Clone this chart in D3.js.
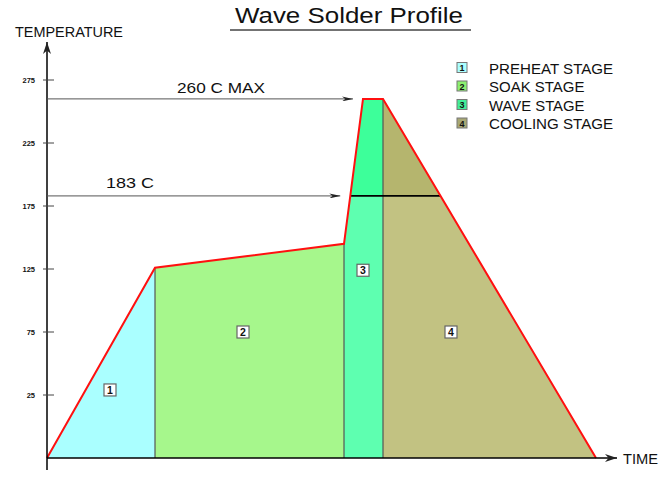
<!DOCTYPE html>
<html>
<head>
<meta charset="utf-8">
<script src="https://cdn.jsdelivr.net/npm/d3@7"></script>
<style>
  body { margin: 0; background: #fff; }
  svg text { font-family: "Liberation Sans", Arial, sans-serif; fill: #111; }
</style>
</head>
<body>
<div id="chart"></div>
<script>
// profile (time in arbitrary units, temperature in C)
const profileTime = [0, 108, 297, 316, 336, 549];
const profileTemp = [-25, 126, 145, 260, 260, -25];
const stageEnds = [0, 108, 297, 336, 549];
const stageNames = ['PREHEAT STAGE', 'SOAK STAGE', 'WAVE STAGE', 'COOLING STAGE'];
const stageLow = ['#aaffff', '#a6f78c', '#5effb0', '#c2c282'];
const stageHigh = ['#aaffff', '#a6f78c', '#3dff9a', '#b5b56e'];
const legendColors = ['#aaffff', '#8cf070', '#44ee99', '#a8a874'];
// where the numbered box of each stage sits: [time, temperature]
const stageLabelTime = [63, 196, 316, 404];
const stageLabelTemp = [29, 75, 124, 75];
const yTicks = [25, 75, 125, 175, 225, 275];
const maxTemp = 260, liquidus = 183;

const W = 670, H = 477;
const svg = d3.select('#chart').append('svg').attr('width', W).attr('height', H);

const x = d3.scaleLinear().domain([0, 563]).range([47, 610]);
const y = d3.scaleLinear().domain([-25, 300]).range([458, 48.5]);

const pts = profileTime.map((t, i) => ({ t: t, v: profileTemp[i] }));
function tempAt(t) {
  for (let i = 1; i < pts.length; i++) {
    if (t <= pts[i].t) {
      const a = pts[i - 1], b = pts[i];
      return a.v + (b.v - a.v) * (t - a.t) / (b.t - a.t);
    }
  }
  return pts[pts.length - 1].v;
}
function timeAt(v, from, to) {
  for (let i = 1; i < pts.length; i++) {
    const a = pts[i - 1], b = pts[i];
    if (a.t >= from && b.t <= to && (a.v - v) * (b.v - v) <= 0 && a.v !== b.v) {
      return a.t + (b.t - a.t) * (v - a.v) / (b.v - a.v);
    }
  }
}
function stagePts(t0, t1) {
  const out = [{ t: t0, v: tempAt(t0) }];
  pts.forEach(p => { if (p.t > t0 && p.t < t1) out.push(p); });
  out.push({ t: t1, v: tempAt(t1) });
  return out;
}

const area = d3.area().x(d => x(d.t)).y0(y(-25)).y1(d => y(d.v));

svg.append('clipPath').attr('id', 'above')
  .append('rect').attr('x', 0).attr('y', 0).attr('width', W).attr('height', y(liquidus));

stageNames.forEach((n, i) => {
  const d = stagePts(stageEnds[i], stageEnds[i + 1]);
  svg.append('path').attr('d', area(d)).attr('fill', stageLow[i]);
  svg.append('path').attr('d', area(d)).attr('fill', stageHigh[i]).attr('clip-path', 'url(#above)');
});

// stage dividers
stageEnds.slice(1, 4).forEach(t => {
  svg.append('line')
    .attr('x1', x(t)).attr('x2', x(t))
    .attr('y1', y(-25)).attr('y2', y(tempAt(t)))
    .attr('stroke', '#555').attr('stroke-width', 1.2);
});

// 183 line across the peak
const tUp = timeAt(liquidus, 0, 336), tDown = timeAt(liquidus, 336, 549);
svg.append('line')
  .attr('x1', x(tUp)).attr('x2', x(tDown))
  .attr('y1', y(liquidus)).attr('y2', y(liquidus))
  .attr('stroke', '#000').attr('stroke-width', 1.6);

// profile outline
svg.append('path')
  .attr('d', d3.line().x(d => x(d.t)).y(d => y(d.v))(pts))
  .attr('fill', 'none').attr('stroke', '#ff1010').attr('stroke-width', 2);

// arrowheads
const defs = svg.append('defs');
function marker(id, w, h) {
  defs.append('marker').attr('id', id)
    .attr('viewBox', `0 0 ${w} ${h}`).attr('refX', w).attr('refY', h / 2)
    .attr('markerWidth', w).attr('markerHeight', h).attr('markerUnits', 'userSpaceOnUse')
    .attr('orient', 'auto')
    .append('path').attr('d', `M0,0L${w},${h / 2}L0,${h}L${w * 0.3},${h / 2}Z`).attr('fill', '#222');
}
marker('arrBig', 12, 8);
marker('arrSmall', 11, 5);

// axes
svg.append('line').attr('x1', 47).attr('x2', 617).attr('y1', y(-25)).attr('y2', y(-25))
  .attr('stroke', '#000').attr('stroke-width', 1.5).attr('marker-end', 'url(#arrBig)');
svg.append('line').attr('x1', 47).attr('x2', 47).attr('y1', 470).attr('y2', 42)
  .attr('stroke', '#000').attr('stroke-width', 1.5).attr('marker-end', 'url(#arrBig)');

const ticks = svg.append('g');
yTicks.forEach(v => {
  ticks.append('line').attr('x1', 43).attr('x2', 54).attr('y1', y(v)).attr('y2', y(v))
    .attr('stroke', '#444').attr('stroke-width', 1);
  ticks.append('text').attr('x', 35).attr('y', y(v) + 2.5).attr('text-anchor', 'end')
    .attr('font-size', 7.5).attr('font-weight', 'bold').text(v);
});

svg.append('text').attr('x', 15).attr('y', 37).attr('font-size', 15.5)
  .attr('textLength', 108).attr('lengthAdjust', 'spacingAndGlyphs').text('TEMPERATURE');
svg.append('text').attr('x', 623).attr('y', 464).attr('font-size', 15.5)
  .attr('textLength', 35).attr('lengthAdjust', 'spacingAndGlyphs').text('TIME');

// title
svg.append('text').attr('x', 235).attr('y', 23).attr('font-size', 22)
  .attr('textLength', 228).attr('lengthAdjust', 'spacingAndGlyphs').text('Wave Solder Profile');
svg.append('line').attr('x1', 230).attr('x2', 471).attr('y1', 30).attr('y2', 30)
  .attr('stroke', '#444').attr('stroke-width', 1.5);

// reference arrows
svg.append('line').attr('x1', 47).attr('x2', x(timeAt(maxTemp, 0, 336)) - 10)
  .attr('y1', y(maxTemp)).attr('y2', y(maxTemp))
  .attr('stroke', '#555').attr('stroke-width', 1).attr('marker-end', 'url(#arrSmall)');
svg.append('text').attr('x', 177).attr('y', 93).attr('font-size', 15)
  .attr('textLength', 88).attr('lengthAdjust', 'spacingAndGlyphs').text('260 C MAX');
svg.append('line').attr('x1', 47).attr('x2', x(tUp) - 10)
  .attr('y1', y(liquidus)).attr('y2', y(liquidus))
  .attr('stroke', '#555').attr('stroke-width', 1).attr('marker-end', 'url(#arrSmall)');
svg.append('text').attr('x', 106).attr('y', 188).attr('font-size', 15)
  .attr('textLength', 48).attr('lengthAdjust', 'spacingAndGlyphs').text('183 C');

// numbered boxes in the stages
function numBox(g, cx, cy, n, fill) {
  g.append('rect').attr('x', cx - 6).attr('y', cy - 6).attr('width', 12).attr('height', 12)
    .attr('fill', fill).attr('stroke', '#666').attr('stroke-width', 1.2);
  g.append('text').attr('x', cx).attr('y', cy + 4).attr('text-anchor', 'middle')
    .attr('font-size', 10.5).attr('font-weight', 'bold').text(n);
}
stageLabelTime.forEach((t, i) => numBox(svg, x(t), y(stageLabelTemp[i]), i + 1, '#fff'));

// legend
const lg = svg.append('g');
stageNames.forEach((n, i) => {
  const ly = 67.5 + i * 18.5;
  lg.append('rect').attr('x', 457).attr('y', ly - 5).attr('width', 10).attr('height', 10)
    .attr('fill', legendColors[i]).attr('stroke', '#777').attr('stroke-width', 1);
  lg.append('text').attr('x', 462).attr('y', ly + 3.5).attr('text-anchor', 'middle')
    .attr('font-size', 9).attr('font-weight', 'bold').text(i + 1);
  lg.append('text').attr('x', 489).attr('y', ly + 6).attr('font-size', 15.5)
    .attr('textLength', n.length * 9.55).attr('lengthAdjust', 'spacingAndGlyphs').text(n);
});
</script>
</body>
</html>
